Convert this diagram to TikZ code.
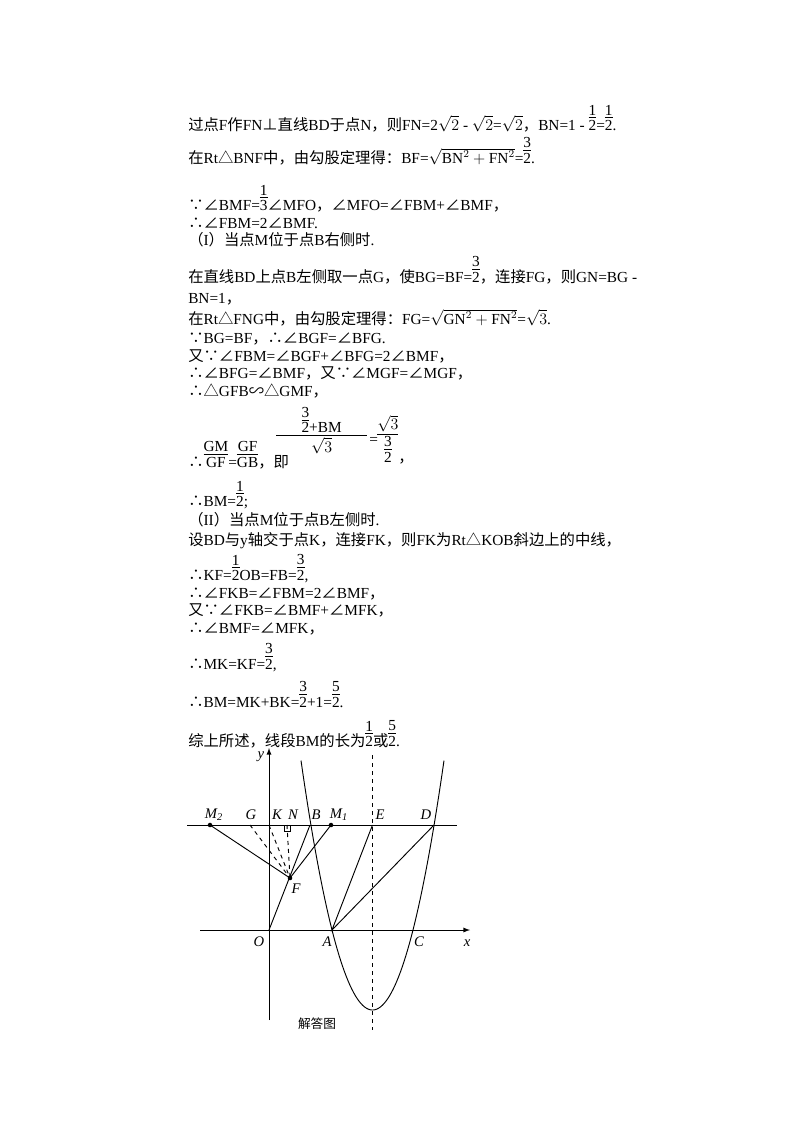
\documentclass[tikz,border=0pt]{standalone}
\usepackage{fontspec}
\setmainfont{Liberation Serif}
\newfontfamily\cjk{Noto Sans CJK SC}
\newfontfamily\lat{Liberation Serif}
\XeTeXinterchartokenstate=1
\newXeTeXintercharclass\cjkclass
\count255="4E00
\loop\XeTeXcharclass\count255=\cjkclass\advance\count255 1 \ifnum\count255<"A000 \repeat
\count255="FF00
\loop\XeTeXcharclass\count255=\cjkclass\advance\count255 1 \ifnum\count255<"FFF0 \repeat
\count255="3000
\loop\XeTeXcharclass\count255=\cjkclass\advance\count255 1 \ifnum\count255<"3040 \repeat
\XeTeXcharclass"2220=\cjkclass
\XeTeXcharclass"25B3=\cjkclass
\XeTeXcharclass"2235=\cjkclass
\XeTeXcharclass"2234=\cjkclass
\XeTeXcharclass"223D=\cjkclass
\XeTeXcharclass"22A5=\cjkclass
\XeTeXinterchartoks 0 \cjkclass={\cjk}
\XeTeXinterchartoks \cjkclass 0={\lat}
\XeTeXinterchartoks 4095 \cjkclass={\cjk}
\XeTeXinterchartoks \cjkclass 4095={\lat}
\newcommand\fr[2]{{\setbox0\hbox{#1}\setbox2\hbox{#2}%
\ifdim\wd0>\wd2 \dimen0=\wd0 \else \dimen0=\wd2 \fi
\vbox{\hbox to\dimen0{\hss\box0\hss}\kern1.5pt\hrule height 0.6pt\kern1.5pt\hbox to\dimen0{\hss\box2\hss}}}}
\tikzset{txt/.style={anchor=base west,inner sep=0pt,font=\fontsize{11.5}{13}\selectfont},
lab/.style={font=\fontsize{11}{12}\selectfont\itshape,inner sep=0pt},
dot/.style={circle,fill,inner sep=1.2pt},
ln/.style={line width=0.7pt}}
\begin{document}
\begin{tikzpicture}[x=0.75pt,y=-0.75pt]
\useasboundingbox (0,0) rectangle (800,1132);
\node[txt] (t1) at (188,130) {过点F作FN⊥直线BD于点N，则FN=2$\sqrt2$ - $\sqrt2$=$\sqrt2$，BN=1 - \fr12=\fr12.};
\node[txt] (t2) at (188,163) {在Rt△BNF中，由勾股定理得：BF=$\sqrt{\mathrm{BN}^2+\mathrm{FN}^2}$=\fr32.};
\node[txt] (t3) at (188,210) {∵∠BMF=\fr13∠MFO，∠MFO=∠FBM+∠BMF，};
\node[txt] (t4) at (188,228) {∴∠FBM=2∠BMF.};
\node[txt] (t5) at (188,245) {（I）当点M位于点B右侧时.};
\node[txt] (t6) at (188,282) {在直线BD上点B左侧取一点G，使BG=BF=\fr32，连接FG，则GN=BG -};
\node[txt] (t7) at (188,303) {BN=1，};
\node[txt] (t8) at (188,324) {在Rt△FNG中，由勾股定理得：FG=$\sqrt{\mathrm{GN}^2+\mathrm{FN}^2}$=$\sqrt3$.};
\node[txt] (t9) at (188,343) {∵BG=BF，∴∠BGF=∠BFG.};
\node[txt] (t10) at (188,361) {又∵∠FBM=∠BGF+∠BFG=2∠BMF，};
\node[txt] (t11) at (188,378) {∴∠BFG=∠BMF，又∵∠MGF=∠MGF，};
\node[txt] (t12) at (188,396) {∴△GFB∽△GMF，};
\node[txt] (t13) at (188,467) {∴\fr{GM}{GF}=\fr{GF}{GB}，即};
\node[txt] (t13a) at (276,452) {\fr{\makebox[68pt]{\fr32+BM}}{$\sqrt3$}};
\node[txt] (t13b) at (369,444) {=};
\node[txt] (t13c) at (377,462) {\fr{$\sqrt3$}{\fr32}，};
\node[txt] (t14) at (188,506) {∴BM=\fr12;};
\node[txt] (t15) at (188,525) {（II）当点M位于点B左侧时.};
\node[txt] (t16) at (188,545) {设BD与y轴交于点K，连接FK，则FK为Rt△KOB斜边上的中线，};
\node[txt] (t17) at (188,580) {∴KF=\fr12OB=FB=\fr32,};
\node[txt] (t18) at (188,598) {∴∠FKB=∠FBM=2∠BMF，};
\node[txt] (t19) at (188,615) {又∵∠FKB=∠BMF+∠MFK，};
\node[txt] (t20) at (188,633) {∴∠BMF=∠MFK，};
\node[txt] (t21) at (188,669) {∴MK=KF=\fr32,};
\node[txt] (t22) at (188,707) {∴BM=MK+BK=\fr32+1=\fr52.};
\node[txt] (t23) at (188,746) {综上所述，线段BM的长为\fr12或\fr52.};
% graph
\coordinate (O) at (269,930);
\coordinate (ytop) at (269,748);
\coordinate (ybot) at (269,1020);
\coordinate (xl) at (200,930);
\coordinate (xr) at (470,930);
\coordinate (Ll) at (187,825);
\coordinate (Lr) at (457,825);
\coordinate (M2) at (210,825);
\coordinate (G) at (250,825);
\coordinate (K) at (269,825);
\coordinate (N) at (287,825);
\coordinate (B) at (310,825);
\coordinate (M1) at (331,825);
\coordinate (E) at (372.5,825);
\coordinate (D) at (434,825);
\coordinate (F) at (290,878);
\coordinate (A) at (332,930);
\coordinate (C) at (413,930);
\coordinate (st) at (372.5,755);
\coordinate (sb) at (372.5,1030);
\draw[ln,-latex] (ybot) -- (ytop);
\draw[ln,-latex] (xl) -- (xr);
\draw[ln] (Ll) -- (Lr);
\draw[ln,dashed] (st) -- (sb);
\draw[ln,domain=301:444,samples=80] plot (\x,{1010-0.0488*(\x-372.5)*(\x-372.5)});
\draw[ln] (O) -- (B);
\draw[ln] (M2) -- (F) -- (M1);
\draw[ln] (E) -- (A) -- (D);
\draw[ln,dashed] (G) -- (F) (K) -- (F) (N) -- (F);
\draw[line width=0.5pt] (284,825) rectangle (290,831);
\foreach \p in {M2,M1,F} \node[dot] at (\p) {};
\node[lab] (lM2) at (214,815) {M\textsubscript{2}};
\node[lab] (lG) at (251,815) {G};
\node[lab] (lK) at (277,815) {K};
\node[lab] (lN) at (293,815) {N};
\node[lab] (lB) at (316,815) {B};
\node[lab] (lM1) at (339,815) {M\textsubscript{1}};
\node[lab] (lE) at (380,815) {E};
\node[lab] (lD) at (426,815) {D};
\node[lab] (lF) at (296,889) {F};
\node[lab] (lO) at (259,942) {O};
\node[lab] (lA) at (327,942) {A};
\node[lab] (lC) at (419,942) {C};
\node[lab] (lx) at (467,943) {x};
\node[lab] (ly) at (261,757) {y};
\node[font=\cjk\fontsize{9.5}{11}\selectfont] (cap) at (317,1024) {解答图};
\end{tikzpicture}
\end{document}
